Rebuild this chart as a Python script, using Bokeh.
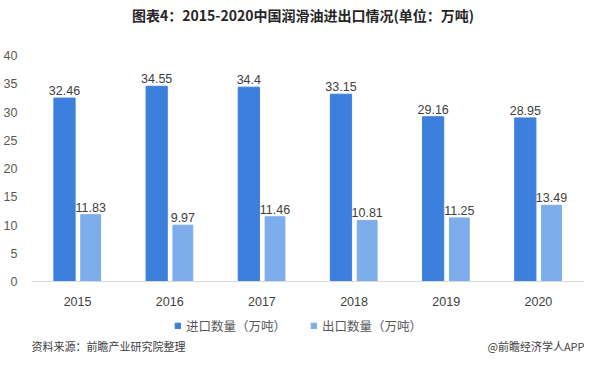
from bokeh.plotting import figure
from bokeh.layouts import column
from bokeh.models import ColumnDataSource, Range1d, Label, Legend, LegendItem, FixedTicker
from bokeh.transform import dodge
from bokeh.core.properties import value
from bokeh.embed import file_html
from bokeh.resources import INLINE

years = ["2015", "2016", "2017", "2018", "2019", "2020"]
imports = [32.46, 34.55, 34.4, 33.15, 29.16, 28.95]
exports = [11.83, 9.97, 11.46, 10.81, 11.25, 13.49]
import_labels = ["32.46", "34.55", "34.4", "33.15", "29.16", "28.95"]
export_labels = ["11.83", "9.97", "11.46", "10.81", "11.25", "13.49"]
y_ticks = [0, 5, 10, 15, 20, 25, 30, 35, 40]

title = "图表4：2015-2020中国润滑油进出口情况(单位：万吨)"
name_import = "进口数量（万吨）"
name_export = "出口数量（万吨）"
source_note = "资料来源：前瞻产业研究院整理"
credit = "@前瞻经济学人APP"

C_IMP = "#3C7FDC"
C_EXP = "#7DADEA"
CJK = "Noto Sans CJK SC"
LAT = "Liberation Sans"
W = 584
LEFT = 26


def blank(h):
    f = figure(width=W, height=h, x_range=Range1d(LEFT, W), y_range=Range1d(0, h),
               output_backend="svg", toolbar_location=None,
               x_axis_type=None, y_axis_type=None,
               min_border_left=LEFT, min_border_right=0,
               min_border_top=0, min_border_bottom=0)
    f.outline_line_color = None
    f.xgrid.visible = False
    f.ygrid.visible = False
    return f


# header with the title
head = blank(38)
head.add_layout(Label(x=300, y=24, text=title, text_align="center", text_baseline="middle",
                      text_font=CJK, text_font_size="14px", text_font_style="bold",
                      text_color="#262626"))

# main chart
src = ColumnDataSource(dict(year=years, imp=imports, exp=exports,
                            imp_l=import_labels, exp_l=export_labels))

p = figure(width=W, height=272, x_range=years, y_range=Range1d(0, 40),
           output_backend="svg", toolbar_location=None,
           min_border_left=LEFT, min_border_right=0, min_border_top=17, min_border_bottom=29)
p.outline_line_color = None
p.xgrid.grid_line_color = None
p.ygrid.grid_line_color = None

r1 = p.vbar(x=dodge("year", -0.142, range=p.x_range), top="imp", width=0.23,
            source=src, color=C_IMP)
r2 = p.vbar(x=dodge("year", 0.142, range=p.x_range), top="exp", width=0.215,
            source=src, color=C_EXP)

p.text(x=dodge("year", -0.142, range=p.x_range), y="imp", text="imp_l", source=src,
       text_align="center", text_baseline="bottom", y_offset=-3,
       text_font=value(LAT), text_font_size="12.5px", text_color="#404040")
p.text(x=dodge("year", 0.142, range=p.x_range), y="exp", text="exp_l", source=src,
       text_align="center", text_baseline="bottom", y_offset=-3,
       text_font=value(LAT), text_font_size="12.5px", text_color="#404040")

p.yaxis.ticker = FixedTicker(ticks=y_ticks)
p.yaxis.axis_line_color = None
p.yaxis.major_tick_line_color = None
p.yaxis.minor_tick_line_color = None
p.yaxis.major_label_text_font = LAT
p.yaxis.major_label_text_font_size = "12.5px"
p.yaxis.major_label_text_color = "#595959"
p.yaxis.major_label_standoff = 8

p.xaxis.axis_line_color = "#D9D9D9"
p.xaxis.major_tick_line_color = None
p.xaxis.minor_tick_line_color = None
p.xaxis.major_label_text_font = LAT
p.xaxis.major_label_text_font_size = "12.5px"
p.xaxis.major_label_text_color = "#404040"
p.xaxis.major_label_standoff = 9

# footer with legend and notes
foot = blank(44)
d1 = foot.vbar(x=[-1000], top=[0], width=1, color=C_IMP)
d2 = foot.vbar(x=[-1000], top=[0], width=1, color=C_EXP)
legend = Legend(items=[LegendItem(label=name_import, renderers=[d1]),
                       LegendItem(label=name_export, renderers=[d2])],
                orientation="horizontal", location=(143, 19),
                label_text_font=CJK, label_text_font_size="12.5px", label_text_color="#595959",
                glyph_width=7, glyph_height=7, spacing=24, label_standoff=5,
                border_line_color=None, background_fill_alpha=0, padding=0, margin=0)
foot.add_layout(legend)
foot.add_layout(Label(x=LEFT, y=9, text=source_note, text_align="left", text_baseline="middle",
                      text_font=CJK, text_font_size="11px", text_color="#404040"))
foot.add_layout(Label(x=W, y=9, text=credit, text_align="right", text_baseline="middle",
                      text_font=CJK, text_font_size="11px", text_color="#404040"))

layout = column(head, p, foot, spacing=0)
open("out.html", "w").write(file_html(layout, INLINE))
